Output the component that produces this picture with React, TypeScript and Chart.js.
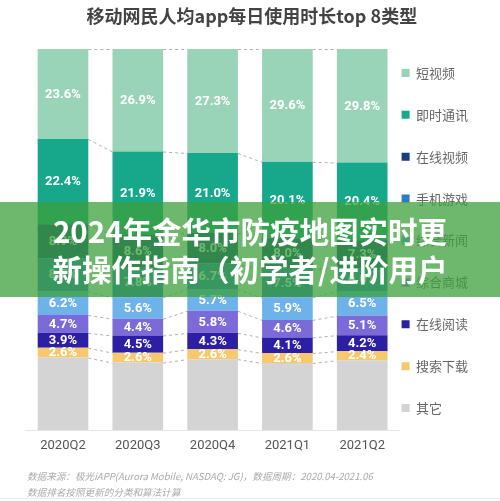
import React, { useEffect, useRef } from 'react';
import { Chart, registerables } from 'chart.js';

Chart.register(...registerables);

const categories = ['2020Q2', '2020Q3', '2020Q4', '2021Q1', '2021Q2'];

// bottom -> top stacking order
const othersVals = [19.0, 17.7, 18.6, 17.6, 18.3];
const searchVals = [2.6, 2.6, 2.6, 2.6, 2.4];
const readingVals = [3.9, 4.5, 4.3, 4.1, 4.2];
const mallVals = [4.7, 4.4, 5.8, 4.6, 5.1];
const newsVals = [6.2, 5.6, 5.7, 5.9, 6.5];
const gameVals = [8.7, 7.8, 6.7, 7.5, 6.0];
const onlineVideoVals = [8.9, 8.6, 8.0, 8.0, 7.3];
const imVals = [22.4, 21.9, 21.0, 20.1, 20.4];
const shortVideoVals = [23.6, 26.9, 27.3, 29.6, 29.8];

const seriesNames = ['其它', '搜索下载', '在线阅读', '综合商城', '综合新闻', '手机游戏', '在线视频', '即时通讯', '短视频'];
const seriesValues = [othersVals, searchVals, readingVals, mallVals, newsVals, gameVals, onlineVideoVals, imVals, shortVideoVals];
const seriesColors = ['#d4d4d4', '#f8c96c', '#2c1fa4', '#7b6ad8', '#6eb2ea', '#2b7cc8', '#173f7c', '#17a88b', '#9ad4b8'];

const titleText = '移动网民人均app每日使用时长top 8类型';
const footerLines = [
  '数据来源：极光iAPP(Aurora Mobile, NASDAQ: JG)，数据周期：2020.04-2021.06',
  '数据排名按照更新的分类和算法计算',
];
const bannerLines = ['2024年金华市防疫地图实时更', '新操作指南（初学者/进阶用户'];

const CJK = '"Noto Sans CJK SC", "Noto Sans", sans-serif';

const connectorPlugin = {
  id: 'connectors',
  beforeDatasetsDraw(chart: any) {
    const ctx = chart.ctx;
    ctx.save();
    ctx.strokeStyle = '#b0b0b0';
    ctx.lineWidth = 1;
    ctx.setLineDash([3, 3]);
    chart.data.datasets.forEach((_ds: any, di: number) => {
      const meta = chart.getDatasetMeta(di);
      for (let i = 0; i < meta.data.length - 1; i++) {
        const a = meta.data[i].getProps(['x', 'y', 'width'], true);
        const b = meta.data[i + 1].getProps(['x', 'y', 'width'], true);
        ctx.beginPath();
        ctx.moveTo(a.x + a.width / 2, a.y + 0.5);
        ctx.lineTo(b.x - b.width / 2, b.y + 0.5);
        ctx.stroke();
      }
    });
    ctx.restore();
  },
};

const labelPlugin = {
  id: 'segLabels',
  afterDatasetsDraw(chart: any) {
    const ctx = chart.ctx;
    ctx.save();
    ctx.fillStyle = '#ffffff';
    ctx.font = 'bold 13px Roboto, "Noto Sans", sans-serif';
    ctx.textAlign = 'center';
    ctx.textBaseline = 'middle';
    chart.data.datasets.forEach((ds: any, di: number) => {
      if (ds.label === '其它') return;
      const meta = chart.getDatasetMeta(di);
      meta.data.forEach((el: any, i: number) => {
        const p = el.getProps(['x', 'y', 'base'], true);
        const v = ds.data[i];
        ctx.fillText(v.toFixed(1) + '%', p.x, (p.y + p.base) / 2 + 0.5);
      });
    });
    ctx.restore();
  },
};

export default function App() {
  const canvasRef = useRef<HTMLCanvasElement | null>(null);

  useEffect(() => {
    const canvas = canvasRef.current;
    if (!canvas) return;
    const chart = new Chart(canvas, {
      type: 'bar',
      data: {
        labels: categories,
        datasets: seriesNames.map((name, i) => ({
          label: name,
          data: seriesValues[i],
          backgroundColor: seriesColors[i],
          borderWidth: 0,
          barPercentage: 0.677,
          categoryPercentage: 1.0,
        })),
      },
      options: {
        responsive: false,
        animation: false,
        layout: { padding: { left: 25.6, right: 21.9, top: 0, bottom: 39.4 } },
        scales: {
          x: {
            stacked: true,
            grid: { display: false, drawTicks: false },
            border: { display: true, color: '#e6e6e6', width: 1 },
            ticks: { color: '#555555', padding: 8, font: { size: 13, family: 'Roboto, "Noto Sans", sans-serif' } },
          },
          y: { stacked: true, min: 0, max: 100, display: false },
        },
        plugins: {
          title: {
            display: true,
            text: titleText,
            color: '#444444',
            font: { size: 18, weight: 'bold', family: CJK },
            padding: { top: 5.7, bottom: 21.7 },
          },
          legend: {
            position: 'right',
            align: 'start',
            reverse: true,
            title: { display: true, text: ' ', padding: 0, font: { size: 10, lineHeight: '64.4px' } },
            labels: {
              boxWidth: 8,
              boxHeight: 8,
              padding: 2,
              color: '#666666',
              font: { size: 13, family: CJK, lineHeight: '39.9px' },
              generateLabels: (c: any) =>
                (Chart.defaults.plugins.legend.labels.generateLabels as any)(c).map((l: any) => ({
                  ...l,
                  text: [l.text],
                  lineWidth: 0,
                })),
            },
          },
          tooltip: { enabled: false },
        },
      } as any,
      plugins: [connectorPlugin, labelPlugin],
    });
    return () => chart.destroy();
  }, []);

  return (
    <div style={{ position: 'absolute', left: 0, top: 0, width: 500, height: 501, background: '#ffffff', overflow: 'hidden' }}>
      <canvas ref={canvasRef} width={500} height={501} style={{ display: 'block', position: 'absolute', left: 0, top: 0 }} />
      <div
        style={{
          position: 'absolute',
          left: 27,
          top: 468,
          fontSize: 9.6,
          lineHeight: '16px',
          fontStyle: 'italic',
          color: '#aaaaaa',
          fontFamily: CJK,
          whiteSpace: 'nowrap',
        }}
      >
        {footerLines.map((t, i) => (
          <div key={i}>{t}</div>
        ))}
      </div>
      <div style={{ position: 'absolute', left: 0, top: 498, width: 500, height: 1, background: '#ececec' }} />
      <div
        style={{
          position: 'absolute',
          left: 0,
          top: 202,
          width: 500,
          height: 95,
          boxSizing: 'border-box',
          paddingTop: 9,
          background: 'rgba(60,160,60,0.75)',
          color: '#ffffff',
          fontFamily: CJK,
          fontWeight: 'bold',
          fontSize: 29.5,
          lineHeight: '38px',
          textAlign: 'center',
          whiteSpace: 'nowrap',
          overflow: 'hidden',
        }}
      >
        {bannerLines.map((t, i) => (
          <div key={i}>{t}</div>
        ))}
      </div>
    </div>
  );
}
